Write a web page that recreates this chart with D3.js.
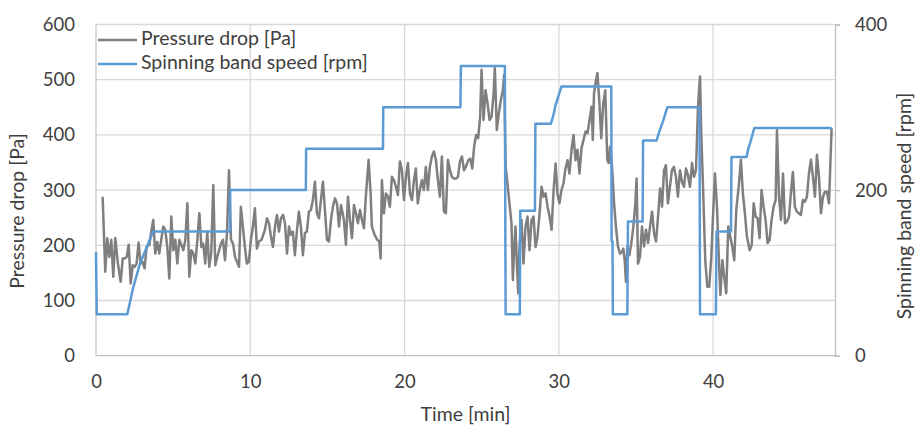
<!DOCTYPE html>
<html>
<head>
<meta charset="utf-8">
<script src="https://cdn.jsdelivr.net/npm/d3@7"></script>
<style>
  body { margin: 0; background: #fff; }
  text { font-family: Lato, "Open Sans", sans-serif; fill: #404040; }
</style>
</head>
<body>
<div id="chart"></div>
<script>
const width = 918;
const height = 426;
const margin = {top: 24.5, right: 83, bottom: 70.3, left: 96};
const innerWidth = width - margin.left - margin.right;
const innerHeight = height - margin.top - margin.bottom;

// x ticks and y ticks
const timeTicks = [0, 10, 20, 30, 40];
const pressureTicks = [0, 100, 200, 300, 400, 500, 600];
const speedTicks = [0, 200, 400];

// pressure drop [Pa]: [time min, Pa]
const pressureDrop = [
  [0.43,288],[0.60,152],[0.73,213],[0.86,179],[0.99,210],[1.12,143],[1.25,213],[1.42,167],[1.60,134],[1.73,176],
  [1.86,176],[1.99,179],[2.12,201],[2.25,131],[2.38,164],[2.51,161],[2.63,167],[2.76,205],[2.89,167],[3.02,170],
  [3.15,158],[3.28,197],[3.46,201],[3.58,225],[3.71,246],[3.84,185],[3.97,206],[4.10,185],[4.23,210],[4.36,234],
  [4.49,228],[4.62,197],[4.75,140],[4.88,252],[5.01,191],[5.14,210],[5.27,167],[5.40,210],[5.53,201],[5.66,191],
  [5.79,210],[5.92,276],[6.05,143],[6.18,191],[6.31,185],[6.44,167],[6.57,210],[6.70,258],[6.83,197],[6.95,203],
  [7.08,167],[7.21,225],[7.34,161],[7.47,185],[7.60,309],[7.73,164],[7.86,179],
  [8.10,203],[8.23,210],[8.36,173],[8.49,222],[8.62,336],[8.75,210],[8.88,203],[9.01,179],[9.27,161],[9.39,270],
  [9.52,234],[9.65,197],[9.78,167],[9.91,170],[10.04,210],[10.17,234],[10.30,267],[10.43,194],[10.56,207],[10.73,210],
  [10.95,228],[11.08,249],[11.21,240],[11.34,216],[11.47,197],[11.60,234],[11.73,255],[11.86,225],[11.99,249],[12.12,255],
  [12.25,240],[12.38,185],[12.51,234],[12.63,219],[12.76,225],[12.89,182],[13.02,225],[13.15,261],[13.28,234],[13.41,182],
  [13.54,222],[13.67,225],[13.80,261],[13.93,264],[14.06,282],[14.19,315],[14.32,258],[14.45,249],[14.58,282],[14.71,315],
  [14.84,264],[14.97,210],[15.10,207],[15.23,246],[15.36,270],[15.49,285],[15.62,276],[15.75,234],[15.88,273],
  [16.07,246],[16.20,201],[16.33,288],[16.46,246],[16.59,213],[16.72,273],[16.85,258],[16.98,240],[17.11,264],[17.24,246],
  [17.37,231],[17.49,288],[17.67,355],[17.80,294],[17.88,234],[18.06,219],[18.23,210],[18.36,207],[18.45,176],[18.53,318],
  [18.66,258],[18.79,294],[18.92,288],[19.05,270],[19.18,324],[19.31,318],[19.44,306],[19.57,291],[19.70,352],[19.83,336],
  [19.96,282],[20.09,324],[20.22,349],[20.35,294],[20.48,282],[20.61,318],[20.73,339],[20.86,276],[20.99,300],[21.12,318],
  [21.25,300],[21.38,342],[21.51,300],[21.64,342],[21.77,361],[21.90,370],[22.03,355],[22.16,318],[22.29,288],[22.42,361],
  [22.55,261],[22.68,258],[22.81,355],[22.94,336],[23.07,324],[23.20,321],[23.33,321],[23.46,324],[23.59,352],[23.72,361],
  [23.85,336],[23.97,342],
  [24.13,354],[24.26,357],[24.39,339],[24.51,379],[24.64,400],[24.77,394],[24.90,433],[24.99,518],[25.12,427],[25.25,481],
  [25.38,457],[25.51,427],[25.64,433],[25.77,475],[25.85,521],[25.98,409],[26.11,439],[26.24,463],[26.37,481],[26.46,509],
  [26.55,342],[26.67,312],[26.80,276],[26.93,240],[27.02,137],[27.11,197],[27.19,234],[27.28,167],[27.37,113],[27.45,197],
  [27.58,246],[27.71,167],[27.84,234],[27.97,252],[28.10,191],[28.23,246],[28.36,252],[28.49,197],[28.62,216],[28.75,258],
  [28.88,306],[29.01,288],[29.14,294],[29.27,270],[29.40,252],[29.53,228],[29.66,300],[29.79,348],[29.91,294],[30.04,276],
  [30.17,300],[30.30,312],[30.43,339],[30.56,354],[30.69,330],[30.82,373],[30.95,400],[31.08,354],[31.21,373],[31.34,330],
  [31.47,376],[31.60,391],[31.73,406],[31.86,403],[31.99,427],[32.12,451],[32.20,391],
  [32.28,475],[32.41,499],[32.50,512],[32.62,463],[32.75,394],[32.88,457],[33.01,481],[33.14,355],[33.23,349],[33.32,379],
  [33.40,361],[33.49,324],[33.58,276],[33.70,234],[33.83,198],[33.96,185],[34.09,188],[34.18,194],[34.27,173],[34.35,134],
  [34.44,198],[34.57,182],[34.70,204],[34.83,234],[34.96,276],[35.04,321],[35.13,167],[35.26,179],[35.39,234],[35.52,198],
  [35.65,228],[35.78,204],[35.91,234],[36.04,261],[36.17,222],[36.30,207],[36.43,252],[36.56,303],[36.69,270],[36.82,336],
  [36.94,345],[37.07,276],[37.20,306],[37.33,336],[37.46,342],[37.59,324],[37.72,288],[37.85,336],[37.98,315],[38.11,306],
  [38.24,339],[38.37,327],[38.50,306],[38.63,349],[38.76,324],[38.89,336],[39.02,451],[39.15,506],[39.23,403],[39.36,294],
  [39.49,173],[39.62,125],[39.75,125],[39.88,179],[40.01,264],
  [40.12,330],[40.25,270],[40.34,198],[40.47,110],[40.60,173],[40.72,143],[40.85,113],[40.98,234],[41.11,216],[41.24,198],
  [41.37,173],[41.50,264],[41.68,312],[41.80,355],[41.93,294],[42.06,258],[42.19,216],[42.37,191],[42.50,200],[42.63,276],
  [42.76,252],[42.88,249],[43.01,213],[43.14,300],[43.27,270],[43.40,246],[43.53,204],[43.66,210],[43.79,246],[43.92,270],
  [44.05,282],[44.14,409],[44.27,288],[44.40,246],[44.53,330],[44.66,240],[44.79,243],[44.92,252],[45.04,294],[45.17,333],
  [45.30,270],[45.43,261],[45.56,258],[45.69,255],[45.82,282],[45.95,279],[46.08,288],[46.21,330],[46.34,355],[46.47,324],
  [46.60,288],[46.73,364],[46.86,324],[46.99,258],[47.12,288],[47.25,297],[47.38,297],[47.51,276],[47.68,412]
];

// spinning band speed [rpm]: [time min, rpm]
const bandSpeed = [
  [0,125],[0.05,50],[2.03,50],[2.42,83],[2.85,111],[3.39,136],[3.71,150],[8.68,150],[8.70,200],[13.60,200],
  [13.62,250],[18.60,250],[18.62,300],[23.62,300],[23.65,350],[26.50,350],[26.55,50],[27.47,50],[27.50,175],[28.45,175],
  [28.48,280],[29.48,280],[29.63,289],[29.79,303],[30.17,325],[33.40,325],[33.42,138],[33.48,138],[33.50,50],[34.44,50],
  [34.48,162],[35.43,162],[35.46,260],[36.34,260],[36.50,270],[36.75,283],[37.03,300],[39.12,300],[39.15,50],[40.18,50],
  [40.22,150],[41.16,150],[41.19,240],[42.17,240],[42.28,250],[42.40,257],[42.67,275],[47.68,275]
];

const legendItems = [
  {label: "Pressure drop [Pa]", color: "#7f7f7f"},
  {label: "Spinning band speed [rpm]", color: "#5b9bd5"}
];

const tickFont = "18.5px";
const titleFont = "19.5px";

const svg = d3.select("#chart")
              .append("svg")
              .attr("width", width)
              .attr("height", height);

const inner = svg.append("g")
                 .attr("transform", `translate(${margin.left}, ${margin.top})`);

const xScale = d3.scaleLinear()
                 .domain([0, 47.9])
                 .range([0, innerWidth]);

const yScale = d3.scaleLinear()
                 .domain([0, 600])
                 .range([innerHeight, 0]);

const ySpeedScale = d3.scaleLinear()
                      .domain([0, 400])
                      .range([innerHeight, 0]);

// gridlines
inner.selectAll(".hgrid")
     .data(pressureTicks.filter(d => d > 0))
     .join("line")
     .attr("class", "hgrid")
     .attr("x1", 0)
     .attr("x2", innerWidth)
     .attr("y1", d => yScale(d))
     .attr("y2", d => yScale(d))
     .attr("stroke", "#d9d9d9")
     .attr("stroke-width", 1.3);

inner.selectAll(".vgrid")
     .data(timeTicks.filter(d => d > 0))
     .join("line")
     .attr("class", "vgrid")
     .attr("x1", d => xScale(d))
     .attr("x2", d => xScale(d))
     .attr("y1", 0)
     .attr("y2", innerHeight)
     .attr("stroke", "#d9d9d9")
     .attr("stroke-width", 1.3);

// axis lines
inner.append("line")
     .attr("x1", 0).attr("x2", 0)
     .attr("y1", 0).attr("y2", innerHeight)
     .attr("stroke", "#c8c8c8")
     .attr("stroke-width", 1.3);

inner.append("line")
     .attr("x1", 0).attr("x2", innerWidth)
     .attr("y1", innerHeight).attr("y2", innerHeight)
     .attr("stroke", "#bfbfbf")
     .attr("stroke-width", 1.3);

const rightAxis = inner.append("g")
                       .attr("transform", `translate(${innerWidth}, 0)`)
                       .call(d3.axisRight(ySpeedScale).tickValues(speedTicks).tickSize(5).tickPadding(15));

rightAxis.select(".domain").attr("stroke", "#bfbfbf").attr("stroke-width", 1.3);
rightAxis.selectAll(".tick line").attr("stroke", "#bfbfbf").attr("stroke-width", 1.3);
rightAxis.selectAll(".tick text")
         .style("font-size", tickFont)
         .style("font-family", "Lato, sans-serif")
         .attr("fill", "#404040");

const leftAxis = inner.append("g")
                      .call(d3.axisLeft(yScale).tickValues(pressureTicks).tickSize(0).tickPadding(21));

leftAxis.select(".domain").remove();
leftAxis.selectAll(".tick text")
        .style("font-size", tickFont)
        .style("font-family", "Lato, sans-serif")
        .attr("fill", "#404040");

const bottomAxis = inner.append("g")
                        .attr("transform", `translate(0, ${innerHeight})`)
                        .call(d3.axisBottom(xScale).tickValues(timeTicks).tickSize(0).tickPadding(19));

bottomAxis.select(".domain").remove();
bottomAxis.selectAll(".tick text")
          .style("font-size", tickFont)
          .style("font-family", "Lato, sans-serif")
          .attr("fill", "#404040");

// series
const pressureLine = d3.line()
                       .x(d => xScale(d[0]))
                       .y(d => yScale(d[1]));

const speedLine = d3.line()
                    .x(d => xScale(d[0]))
                    .y(d => ySpeedScale(d[1]));

inner.append("path")
     .datum(pressureDrop)
     .attr("d", pressureLine)
     .attr("fill", "none")
     .attr("stroke", "#7f7f7f")
     .attr("stroke-width", 2.5)
     .attr("stroke-linejoin", "round");

inner.append("path")
     .datum(bandSpeed)
     .attr("d", speedLine)
     .attr("fill", "none")
     .attr("stroke", "#5b9bd5")
     .attr("stroke-width", 2.5)
     .attr("stroke-linejoin", "round");

// axis titles
svg.append("text")
   .attr("x", margin.left + innerWidth / 2)
   .attr("y", 416)
   .attr("text-anchor", "middle")
   .attr("dominant-baseline", "middle")
   .style("font-size", titleFont)
   .text("Time [min]");

svg.append("text")
   .attr("transform", "translate(19, 211) rotate(-90)")
   .attr("text-anchor", "middle")
   .attr("dominant-baseline", "middle")
   .style("font-size", titleFont)
   .text("Pressure drop [Pa]");

svg.append("text")
   .attr("transform", "translate(906, 206) rotate(-90)")
   .attr("text-anchor", "middle")
   .attr("dominant-baseline", "middle")
   .style("font-size", titleFont)
   .text("Spinning band speed [rpm]");

// legend
const legend = svg.append("g")
                  .attr("transform", "translate(98, 40)");

legend.selectAll("line")
      .data(legendItems)
      .join("line")
      .attr("x1", 0)
      .attr("x2", 39)
      .attr("y1", (d, i) => i * 24)
      .attr("y2", (d, i) => i * 24)
      .attr("stroke", d => d.color)
      .attr("stroke-width", 2.5);

legend.selectAll("text")
      .data(legendItems)
      .join("text")
      .attr("x", 43)
      .attr("y", (d, i) => i * 24)
      .attr("dominant-baseline", "middle")
      .style("font-size", titleFont)
      .text(d => d.label);
</script>
</body>
</html>
